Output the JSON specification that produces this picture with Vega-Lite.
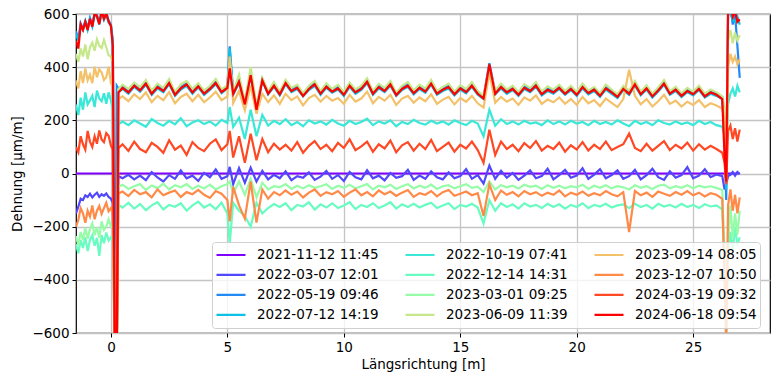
{
"$schema": "https://vega.github.io/schema/vega-lite/v6.json",
"width": 694, "height": 319,
"autosize": {"type": "none"},
"padding": {"left": 76, "top": 14, "right": 1, "bottom": 43},
"background": "white",
"config": {
  "font": "DejaVu Sans",
  "view": {"stroke": "black", "strokeWidth": 1.2},
  "axis": {"domain": false, "tickColor": "black", "tickSize": 4, "tickWidth": 1, "labelFontSize": 13.5, "labelColor": "black", "labelFont": "DejaVu Sans", "titleFont": "DejaVu Sans", "titleFontSize": 13.5, "titleFontWeight": "normal", "titleColor": "black", "gridColor": "#c4c4c4", "gridWidth": 1.3, "labelPadding": 3}
},
"data": {"values": [
{"x":-1.5,"a":0,"b":-150,"c":535,"d":525,"e":260,"f":-265,"g":-235,"h":450,"i":350,"j":-200,"k":100,"l":500},
{"x":-1.4,"a":0,"b":-125,"c":505,"d":500,"e":220,"f":-300,"g":-270,"h":420,"i":320,"j":-175,"k":80,"l":470},
{"x":-1.3,"a":0,"b":-95,"c":565,"d":555,"e":285,"f":-250,"g":-220,"h":470,"i":385,"j":-130,"k":140,"l":560},
{"x":-1.2,"a":0,"b":-100,"c":545,"d":540,"e":240,"f":-280,"g":-250,"h":440,"i":340,"j":-150,"k":110,"l":540},
{"x":-1.1,"a":0,"b":-82,"c":575,"d":570,"e":305,"f":-240,"g":-205,"h":485,"i":395,"j":-185,"k":90,"l":570},
{"x":-1.0,"a":0,"b":-88,"c":548,"d":540,"e":260,"f":-292,"g":-245,"h":430,"i":350,"j":-140,"k":160,"l":540},
{"x":-0.9,"a":0,"b":-76,"c":585,"d":578,"e":275,"f":-250,"g":-210,"h":475,"i":372,"j":-162,"k":120,"l":582},
{"x":-0.8,"a":0,"b":-90,"c":560,"d":552,"e":292,"f":-232,"g":-188,"h":492,"i":340,"j":-120,"k":100,"l":552},
{"x":-0.7,"a":0,"b":-80,"c":605,"d":598,"e":250,"f":-272,"g":-232,"h":462,"i":402,"j":-172,"k":140,"l":602},
{"x":-0.6,"a":0,"b":-72,"c":595,"d":590,"e":312,"f":-242,"g":-202,"h":505,"i":362,"j":-140,"k":112,"l":592},
{"x":-0.5,"a":0,"b":-88,"c":565,"d":560,"e":282,"f":-310,"g":-242,"h":480,"i":392,"j":-122,"k":162,"l":562},
{"x":-0.4,"a":0,"b":-78,"c":612,"d":605,"e":272,"f":-232,"g":-180,"h":472,"i":380,"j":-152,"k":128,"l":612},
{"x":-0.3,"a":0,"b":-84,"c":585,"d":578,"e":302,"f":-262,"g":-212,"h":502,"i":352,"j":-130,"k":118,"l":582},
{"x":-0.2,"a":0,"b":-75,"c":605,"d":598,"e":262,"f":-222,"g":-200,"h":475,"i":362,"j":-110,"k":152,"l":602},
{"x":-0.1,"a":0,"b":-88,"c":575,"d":568,"e":305,"f":-252,"g":-172,"h":445,"i":402,"j":-142,"k":142,"l":572},
{"x":0.0,"a":0,"b":-95,"c":560,"d":555,"e":275,"f":-240,"g":-200,"h":440,"i":340,"j":-130,"k":105,"l":555},
{"x":0.08,"a":0,"b":-110,"c":500,"d":495,"e":240,"f":-250,"g":-200,"h":420,"i":330,"j":-150,"k":90,"l":480},
{"x":0.17,"a":0,"b":-700,"c":-700,"d":-700,"e":-700,"f":-700,"g":-700,"h":-700,"i":-700,"j":-700,"k":-700,"l":-700},
{"x":0.25,"a":0,"b":-700,"c":330,"d":-700,"e":-700,"f":-700,"g":-700,"h":-700,"i":-700,"j":-700,"k":-700,"l":-700},
{"x":0.32,"a":0,"b":-10,"c":320,"d":305,"e":185,"f":-118,"g":-50,"h":318,"i":280,"j":-75,"k":95,"l":305},
{"x":0.5,"a":0,"b":-18,"c":328,"d":318,"e":195,"f":-128,"g":-42,"h":334,"i":290,"j":-68,"k":110,"l":322},
{"x":0.75,"a":0,"b":-5,"c":310,"d":300,"e":182,"f":-110,"g":-58,"h":318,"i":272,"j":-85,"k":85,"l":305},
{"x":1.0,"a":0,"b":-22,"c":336,"d":326,"e":200,"f":-132,"g":-48,"h":342,"i":298,"j":-62,"k":120,"l":330},
{"x":1.25,"a":0,"b":-8,"c":316,"d":308,"e":188,"f":-115,"g":-40,"h":325,"i":280,"j":-78,"k":92,"l":312},
{"x":1.5,"a":0,"b":-25,"c":342,"d":334,"e":176,"f":-138,"g":-62,"h":352,"i":305,"j":-70,"k":80,"l":338},
{"x":1.75,"a":0,"b":5,"c":306,"d":296,"e":205,"f":-120,"g":-45,"h":312,"i":268,"j":-90,"k":115,"l":300},
{"x":2.0,"a":0,"b":-15,"c":330,"d":320,"e":190,"f":-108,"g":-55,"h":338,"i":292,"j":-60,"k":100,"l":325},
{"x":2.25,"a":0,"b":-30,"c":316,"d":306,"e":180,"f":-135,"g":-38,"h":322,"i":276,"j":-82,"k":78,"l":310},
{"x":2.5,"a":0,"b":-6,"c":344,"d":336,"e":198,"f":-118,"g":-60,"h":355,"i":306,"j":-72,"k":125,"l":340},
{"x":2.75,"a":0,"b":-20,"c":302,"d":292,"e":185,"f":-125,"g":-44,"h":306,"i":264,"j":-64,"k":90,"l":296},
{"x":3.0,"a":0,"b":12,"c":325,"d":316,"e":208,"f":-112,"g":-52,"h":335,"i":288,"j":-88,"k":105,"l":320},
{"x":3.25,"a":0,"b":-18,"c":340,"d":330,"e":178,"f":-140,"g":-40,"h":348,"i":300,"j":-70,"k":70,"l":335},
{"x":3.5,"a":0,"b":-8,"c":310,"d":300,"e":192,"f":-120,"g":-58,"h":318,"i":272,"j":-78,"k":118,"l":305},
{"x":3.75,"a":0,"b":-28,"c":334,"d":324,"e":200,"f":-106,"g":-46,"h":340,"i":296,"j":-62,"k":96,"l":328},
{"x":4.0,"a":0,"b":2,"c":306,"d":296,"e":186,"f":-128,"g":-56,"h":312,"i":268,"j":-80,"k":84,"l":300},
{"x":4.25,"a":0,"b":-14,"c":324,"d":314,"e":196,"f":-116,"g":-42,"h":330,"i":286,"j":-92,"k":112,"l":318},
{"x":4.5,"a":0,"b":15,"c":346,"d":336,"e":180,"f":-134,"g":-60,"h":356,"i":308,"j":-66,"k":128,"l":340},
{"x":4.75,"a":0,"b":-20,"c":312,"d":302,"e":202,"f":-110,"g":-48,"h":316,"i":276,"j":-76,"k":88,"l":306},
{"x":5.0,"a":0,"b":-10,"c":330,"d":320,"e":190,"f":-150,"g":-40,"h":332,"i":290,"j":-100,"k":110,"l":322},
{"x":5.1,"a":0,"b":25,"c":478,"d":470,"e":250,"f":-265,"g":-30,"h":420,"i":440,"j":-180,"k":160,"l":395},
{"x":5.25,"a":0,"b":-40,"c":305,"d":296,"e":175,"f":-110,"g":-75,"h":306,"i":265,"j":-50,"k":60,"l":300},
{"x":5.5,"a":0,"b":20,"c":350,"d":340,"e":210,"f":-140,"g":-30,"h":372,"i":310,"j":-120,"k":140,"l":345},
{"x":5.75,"a":0,"b":-35,"c":268,"d":262,"e":130,"f":-160,"g":-80,"h":270,"i":238,"j":-170,"k":40,"l":260},
{"x":6.0,"a":0,"b":22,"c":375,"d":368,"e":240,"f":-200,"g":-20,"h":400,"i":330,"j":-30,"k":150,"l":370},
{"x":6.25,"a":0,"b":-30,"c":245,"d":238,"e":140,"f":-110,"g":-90,"h":255,"i":225,"j":-185,"k":50,"l":240},
{"x":6.5,"a":0,"b":10,"c":355,"d":348,"e":220,"f":-150,"g":-35,"h":360,"i":300,"j":-60,"k":130,"l":350},
{"x":6.75,"a":0,"b":-22,"c":306,"d":298,"e":180,"f":-130,"g":-60,"h":310,"i":268,"j":-95,"k":80,"l":300},
{"x":7.0,"a":0,"b":-5,"c":336,"d":326,"e":198,"f":-115,"g":-48,"h":344,"i":294,"j":-70,"k":112,"l":330},
{"x":7.25,"a":0,"b":-18,"c":304,"d":294,"e":186,"f":-126,"g":-52,"h":308,"i":262,"j":-82,"k":90,"l":298},
{"x":7.5,"a":0,"b":8,"c":346,"d":336,"e":204,"f":-112,"g":-40,"h":352,"i":300,"j":-64,"k":108,"l":340},
{"x":7.75,"a":0,"b":-25,"c":316,"d":306,"e":182,"f":-138,"g":-58,"h":322,"i":276,"j":-80,"k":86,"l":310},
{"x":8.0,"a":0,"b":-10,"c":328,"d":318,"e":194,"f":-118,"g":-46,"h":334,"i":290,"j":-68,"k":118,"l":322},
{"x":8.25,"a":0,"b":-16,"c":298,"d":290,"e":178,"f":-124,"g":-56,"h":302,"i":256,"j":-90,"k":78,"l":292},
{"x":8.5,"a":0,"b":4,"c":324,"d":314,"e":200,"f":-108,"g":-44,"h":330,"i":284,"j":-72,"k":104,"l":318},
{"x":8.75,"a":0,"b":-24,"c":340,"d":330,"e":188,"f":-136,"g":-54,"h":348,"i":296,"j":-60,"k":122,"l":335},
{"x":9.0,"a":0,"b":-12,"c":306,"d":296,"e":196,"f":-116,"g":-48,"h":310,"i":270,"j":-84,"k":92,"l":300},
{"x":9.25,"a":0,"b":10,"c":332,"d":322,"e":184,"f":-128,"g":-40,"h":340,"i":292,"j":-70,"k":108,"l":326},
{"x":9.5,"a":0,"b":-20,"c":314,"d":304,"e":202,"f":-112,"g":-58,"h":318,"i":274,"j":-78,"k":84,"l":308},
{"x":9.75,"a":0,"b":-6,"c":326,"d":316,"e":188,"f":-130,"g":-46,"h":334,"i":284,"j":-66,"k":115,"l":320},
{"x":10.0,"a":0,"b":-28,"c":302,"d":292,"e":180,"f":-120,"g":-54,"h":306,"i":262,"j":-88,"k":96,"l":296},
{"x":10.25,"a":0,"b":6,"c":336,"d":326,"e":198,"f":-108,"g":-42,"h":342,"i":296,"j":-72,"k":128,"l":330},
{"x":10.5,"a":0,"b":-14,"c":310,"d":300,"e":186,"f":-134,"g":-56,"h":316,"i":270,"j":-60,"k":88,"l":305},
{"x":10.75,"a":0,"b":-22,"c":324,"d":314,"e":194,"f":-118,"g":-48,"h":330,"i":282,"j":-82,"k":102,"l":318},
{"x":11.0,"a":0,"b":12,"c":350,"d":340,"e":206,"f":-126,"g":-40,"h":358,"i":308,"j":-70,"k":120,"l":345},
{"x":11.25,"a":0,"b":-18,"c":306,"d":296,"e":182,"f":-112,"g":-60,"h":310,"i":264,"j":-86,"k":82,"l":300},
{"x":11.5,"a":0,"b":-8,"c":330,"d":320,"e":196,"f":-130,"g":-46,"h":338,"i":288,"j":-64,"k":110,"l":325},
{"x":11.75,"a":0,"b":-26,"c":316,"d":306,"e":188,"f":-120,"g":-52,"h":322,"i":274,"j":-78,"k":94,"l":310},
{"x":12.0,"a":0,"b":2,"c":340,"d":330,"e":200,"f":-108,"g":-42,"h":348,"i":296,"j":-68,"k":124,"l":335},
{"x":12.25,"a":0,"b":-16,"c":300,"d":292,"e":178,"f":-132,"g":-58,"h":304,"i":258,"j":-84,"k":80,"l":295},
{"x":12.5,"a":0,"b":-10,"c":324,"d":314,"e":194,"f":-116,"g":-48,"h":330,"i":282,"j":-72,"k":106,"l":318},
{"x":12.75,"a":0,"b":14,"c":336,"d":326,"e":186,"f":-126,"g":-40,"h":344,"i":292,"j":-62,"k":118,"l":330},
{"x":13.0,"a":0,"b":-24,"c":308,"d":298,"e":202,"f":-114,"g":-56,"h":312,"i":266,"j":-88,"k":86,"l":302},
{"x":13.25,"a":0,"b":-8,"c":328,"d":318,"e":190,"f":-128,"g":-46,"h":334,"i":286,"j":-74,"k":112,"l":322},
{"x":13.5,"a":0,"b":-20,"c":314,"d":304,"e":184,"f":-118,"g":-54,"h":320,"i":272,"j":-80,"k":92,"l":308},
{"x":13.75,"a":0,"b":8,"c":344,"d":334,"e":198,"f":-110,"g":-42,"h":352,"i":298,"j":-66,"k":126,"l":338},
{"x":14.0,"a":0,"b":-14,"c":306,"d":296,"e":188,"f":-130,"g":-58,"h":310,"i":262,"j":-86,"k":84,"l":300},
{"x":14.25,"a":0,"b":-22,"c":320,"d":310,"e":196,"f":-120,"g":-48,"h":326,"i":278,"j":-70,"k":100,"l":315},
{"x":14.5,"a":0,"b":4,"c":330,"d":320,"e":184,"f":-112,"g":-44,"h":338,"i":288,"j":-62,"k":116,"l":325},
{"x":14.75,"a":0,"b":-18,"c":304,"d":294,"e":200,"f":-134,"g":-56,"h":308,"i":260,"j":-84,"k":82,"l":298},
{"x":15.0,"a":0,"b":-10,"c":326,"d":316,"e":190,"f":-118,"g":-48,"h":332,"i":284,"j":-76,"k":108,"l":320},
{"x":15.25,"a":0,"b":16,"c":312,"d":302,"e":182,"f":-124,"g":-40,"h":318,"i":270,"j":-68,"k":94,"l":306},
{"x":15.5,"a":0,"b":-20,"c":336,"d":326,"e":198,"f":-114,"g":-54,"h":344,"i":292,"j":-82,"k":120,"l":330},
{"x":15.75,"a":0,"b":-6,"c":306,"d":296,"e":188,"f":-128,"g":-50,"h":310,"i":264,"j":-74,"k":88,"l":300},
{"x":16.0,"a":0,"b":-38,"c":288,"d":280,"e":140,"f":-188,"g":-70,"h":292,"i":248,"j":-160,"k":40,"l":282},
{"x":16.25,"a":0,"b":30,"c":415,"d":405,"e":240,"f":-100,"g":-30,"h":400,"i":380,"j":-40,"k":165,"l":410},
{"x":16.5,"a":0,"b":-20,"c":306,"d":298,"e":180,"f":-140,"g":-60,"h":312,"i":266,"j":-100,"k":70,"l":300},
{"x":16.75,"a":0,"b":10,"c":330,"d":320,"e":204,"f":-112,"g":-44,"h":338,"i":288,"j":-64,"k":120,"l":325},
{"x":17.0,"a":0,"b":-16,"c":310,"d":300,"e":186,"f":-126,"g":-52,"h":316,"i":270,"j":-80,"k":92,"l":305},
{"x":17.25,"a":0,"b":2,"c":324,"d":314,"e":196,"f":-116,"g":-46,"h":330,"i":282,"j":-70,"k":108,"l":318},
{"x":17.5,"a":0,"b":-24,"c":302,"d":292,"e":184,"f":-132,"g":-56,"h":306,"i":258,"j":-86,"k":84,"l":296},
{"x":17.75,"a":0,"b":-8,"c":328,"d":318,"e":198,"f":-112,"g":-42,"h":336,"i":286,"j":-66,"k":114,"l":322},
{"x":18.0,"a":0,"b":12,"c":316,"d":306,"e":188,"f":-124,"g":-50,"h":322,"i":274,"j":-78,"k":96,"l":310},
{"x":18.25,"a":0,"b":-18,"c":336,"d":326,"e":192,"f":-118,"g":-46,"h":344,"i":294,"j":-70,"k":122,"l":330},
{"x":18.5,"a":0,"b":-10,"c":304,"d":294,"e":182,"f":-130,"g":-58,"h":308,"i":262,"j":-84,"k":86,"l":298},
{"x":18.75,"a":0,"b":18,"c":320,"d":310,"e":200,"f":-114,"g":-44,"h":328,"i":278,"j":-72,"k":104,"l":315},
{"x":19.0,"a":0,"b":-22,"c":310,"d":300,"e":186,"f":-126,"g":-54,"h":316,"i":268,"j":-80,"k":92,"l":305},
{"x":19.25,"a":0,"b":-6,"c":328,"d":318,"e":196,"f":-116,"g":-46,"h":334,"i":286,"j":-64,"k":116,"l":322},
{"x":19.5,"a":0,"b":14,"c":306,"d":296,"e":184,"f":-132,"g":-56,"h":310,"i":262,"j":-86,"k":82,"l":300},
{"x":19.75,"a":0,"b":-16,"c":324,"d":314,"e":198,"f":-118,"g":-48,"h":330,"i":280,"j":-72,"k":106,"l":318},
{"x":20.0,"a":0,"b":-8,"c":302,"d":292,"e":188,"f":-126,"g":-52,"h":306,"i":258,"j":-80,"k":90,"l":296},
{"x":20.25,"a":0,"b":20,"c":330,"d":320,"e":194,"f":-112,"g":-42,"h":338,"i":288,"j":-68,"k":118,"l":325},
{"x":20.5,"a":0,"b":-20,"c":308,"d":298,"e":182,"f":-130,"g":-58,"h":312,"i":264,"j":-84,"k":86,"l":302},
{"x":20.75,"a":0,"b":-4,"c":320,"d":310,"e":198,"f":-118,"g":-46,"h":326,"i":276,"j":-74,"k":108,"l":315},
{"x":21.0,"a":0,"b":16,"c":298,"d":288,"e":186,"f":-124,"g":-54,"h":302,"i":254,"j":-82,"k":92,"l":292},
{"x":21.25,"a":0,"b":-18,"c":326,"d":316,"e":194,"f":-114,"g":-44,"h":334,"i":282,"j":-66,"k":120,"l":320},
{"x":21.5,"a":0,"b":-6,"c":310,"d":300,"e":184,"f":-128,"g":-56,"h":316,"i":266,"j":-78,"k":88,"l":305},
{"x":21.75,"a":0,"b":12,"c":294,"d":284,"e":200,"f":-120,"g":-48,"h":298,"i":250,"j":-86,"k":100,"l":288},
{"x":22.0,"a":0,"b":-20,"c":324,"d":314,"e":188,"f":-116,"g":-52,"h":330,"i":280,"j":-70,"k":110,"l":318},
{"x":22.25,"a":0,"b":-10,"c":306,"d":296,"e":178,"f":-130,"g":-60,"h":312,"i":390,"j":-220,"k":150,"l":300},
{"x":22.5,"a":0,"b":14,"c":340,"d":330,"e":198,"f":-114,"g":-44,"h":348,"i":292,"j":-66,"k":96,"l":335},
{"x":22.75,"a":0,"b":-22,"c":304,"d":294,"e":186,"f":-126,"g":-54,"h":308,"i":260,"j":-82,"k":84,"l":298},
{"x":23.0,"a":0,"b":-6,"c":326,"d":316,"e":194,"f":-118,"g":-48,"h":332,"i":280,"j":-72,"k":112,"l":320},
{"x":23.25,"a":0,"b":18,"c":296,"d":286,"e":182,"f":-132,"g":-58,"h":300,"i":252,"j":-88,"k":86,"l":290},
{"x":23.5,"a":0,"b":-14,"c":318,"d":308,"e":200,"f":-114,"g":-46,"h":324,"i":272,"j":-68,"k":104,"l":312},
{"x":23.75,"a":0,"b":-24,"c":344,"d":334,"e":190,"f":-124,"g":-42,"h":352,"i":296,"j":-76,"k":122,"l":338},
{"x":24.0,"a":0,"b":8,"c":306,"d":296,"e":184,"f":-118,"g":-56,"h":310,"i":262,"j":-84,"k":88,"l":300},
{"x":24.25,"a":0,"b":-16,"c":320,"d":310,"e":196,"f":-128,"g":-48,"h":326,"i":274,"j":-70,"k":108,"l":315},
{"x":24.5,"a":0,"b":-6,"c":298,"d":288,"e":186,"f":-114,"g":-54,"h":302,"i":252,"j":-80,"k":94,"l":292},
{"x":24.75,"a":0,"b":24,"c":316,"d":306,"e":192,"f":-126,"g":-44,"h":322,"i":270,"j":-66,"k":116,"l":310},
{"x":25.0,"a":0,"b":-18,"c":304,"d":294,"e":182,"f":-118,"g":-56,"h":308,"i":258,"j":-82,"k":86,"l":298},
{"x":25.25,"a":0,"b":-8,"c":324,"d":314,"e":198,"f":-130,"g":-46,"h":330,"i":276,"j":-72,"k":110,"l":318},
{"x":25.5,"a":0,"b":16,"c":296,"d":286,"e":186,"f":-116,"g":-52,"h":300,"i":250,"j":-86,"k":90,"l":290},
{"x":25.75,"a":0,"b":-14,"c":310,"d":300,"e":194,"f":-124,"g":-48,"h":316,"i":264,"j":-74,"k":104,"l":305},
{"x":26.0,"a":0,"b":-4,"c":302,"d":292,"e":182,"f":-120,"g":-54,"h":306,"i":256,"j":-80,"k":92,"l":296},
{"x":26.25,"a":0,"b":-10,"c":288,"d":280,"e":176,"f":-135,"g":-62,"h":290,"i":244,"j":-95,"k":78,"l":280},
{"x":26.35,"a":0,"b":-60,"c":120,"d":180,"e":140,"f":-350,"g":-300,"h":250,"i":200,"j":-400,"k":40,"l":60},
{"x":26.42,"a":0,"b":-40,"c":-100,"d":-60,"e":60,"f":-620,"g":-560,"h":-20,"i":-40,"j":-640,"k":-40,"l":-30},
{"x":26.5,"a":0,"b":-10,"c":620,"d":610,"e":260,"f":-300,"g":-260,"h":500,"i":400,"j":-120,"k":160,"l":620},
{"x":26.6,"a":0,"b":-5,"c":640,"d":600,"e":300,"f":-220,"g":-120,"h":540,"i":450,"j":-60,"k":180,"l":640},
{"x":26.7,"a":0,"b":5,"c":560,"d":580,"e":320,"f":-290,"g":-240,"h":490,"i":420,"j":-140,"k":130,"l":590},
{"x":26.8,"a":0,"b":-8,"c":600,"d":570,"e":290,"f":-200,"g":-150,"h":530,"i":440,"j":-80,"k":170,"l":610},
{"x":26.9,"a":0,"b":6,"c":480,"d":590,"e":330,"f":-270,"g":-230,"h":500,"i":410,"j":-150,"k":120,"l":570},
{"x":27.0,"a":0,"b":-2,"c":360,"d":560,"e":305,"f":-240,"g":-140,"h":520,"i":430,"j":-90,"k":165,"l":580}
]},
"transform": [{"fold": ["a","b","c","d","e","f","g","h","i","j","k","l"], "as": ["series", "value"]}],
"mark": {"type": "line", "strokeWidth": 2.2, "clip": true},
"encoding": {
  "x": {"field": "x", "type": "quantitative",
        "scale": {"domain": [-1.5, 28.3], "nice": false, "zero": false},
        "axis": {"values": [0,5,10,15,20,25], "title": "Längsrichtung [m]", "titlePadding": 4}},
  "y": {"field": "value", "type": "quantitative",
        "scale": {"domain": [-600, 600], "nice": false},
        "axis": {"values": [-600,-400,-200,0,200,400,600], "title": "Dehnung [µm/m]", "titlePadding": 7}},
  "color": {"field": "series", "type": "nominal",
    "scale": {"domain": ["a","b","c","d","e","f","g","h","i","j","k","l"],
              "range": ["#8000ff","#5148fc","#238af5","#0cc1e8","#3ae8d7","#68fcc1","#97fca7","#c5e88a","#f3c16a","#ff8a48","#ff4824","#ff0000"]},
    "legend": {"title": null, "orient": "none", "legendX": 136, "legendY": 228, "columns": 3,
      "symbolType": "stroke", "symbolStrokeWidth": 2.2, "symbolSize": 841,
      "labelFontSize": 13.5, "labelFont": "DejaVu Sans", "labelColor": "black", "labelOffset": 10, "labelLimit": 0,
      "columnPadding": 25, "rowPadding": 0, "clipHeight": 19.7, "padding": 3,
      "strokeColor": "#d0d0d0", "fillColor": "rgba(255,255,255,0.8)", "cornerRadius": 3,
      "labelExpr": "{'a':'2021-11-12 11:45','b':'2022-03-07 12:01','c':'2022-05-19 09:46','d':'2022-07-12 14:19','e':'2022-10-19 07:41','f':'2022-12-14 14:31','g':'2023-03-01 09:25','h':'2023-06-09 11:39','i':'2023-09-14 08:05','j':'2023-12-07 10:50','k':'2024-03-19 09:32','l':'2024-06-18 09:54'}[datum.label]"}}
}
}
